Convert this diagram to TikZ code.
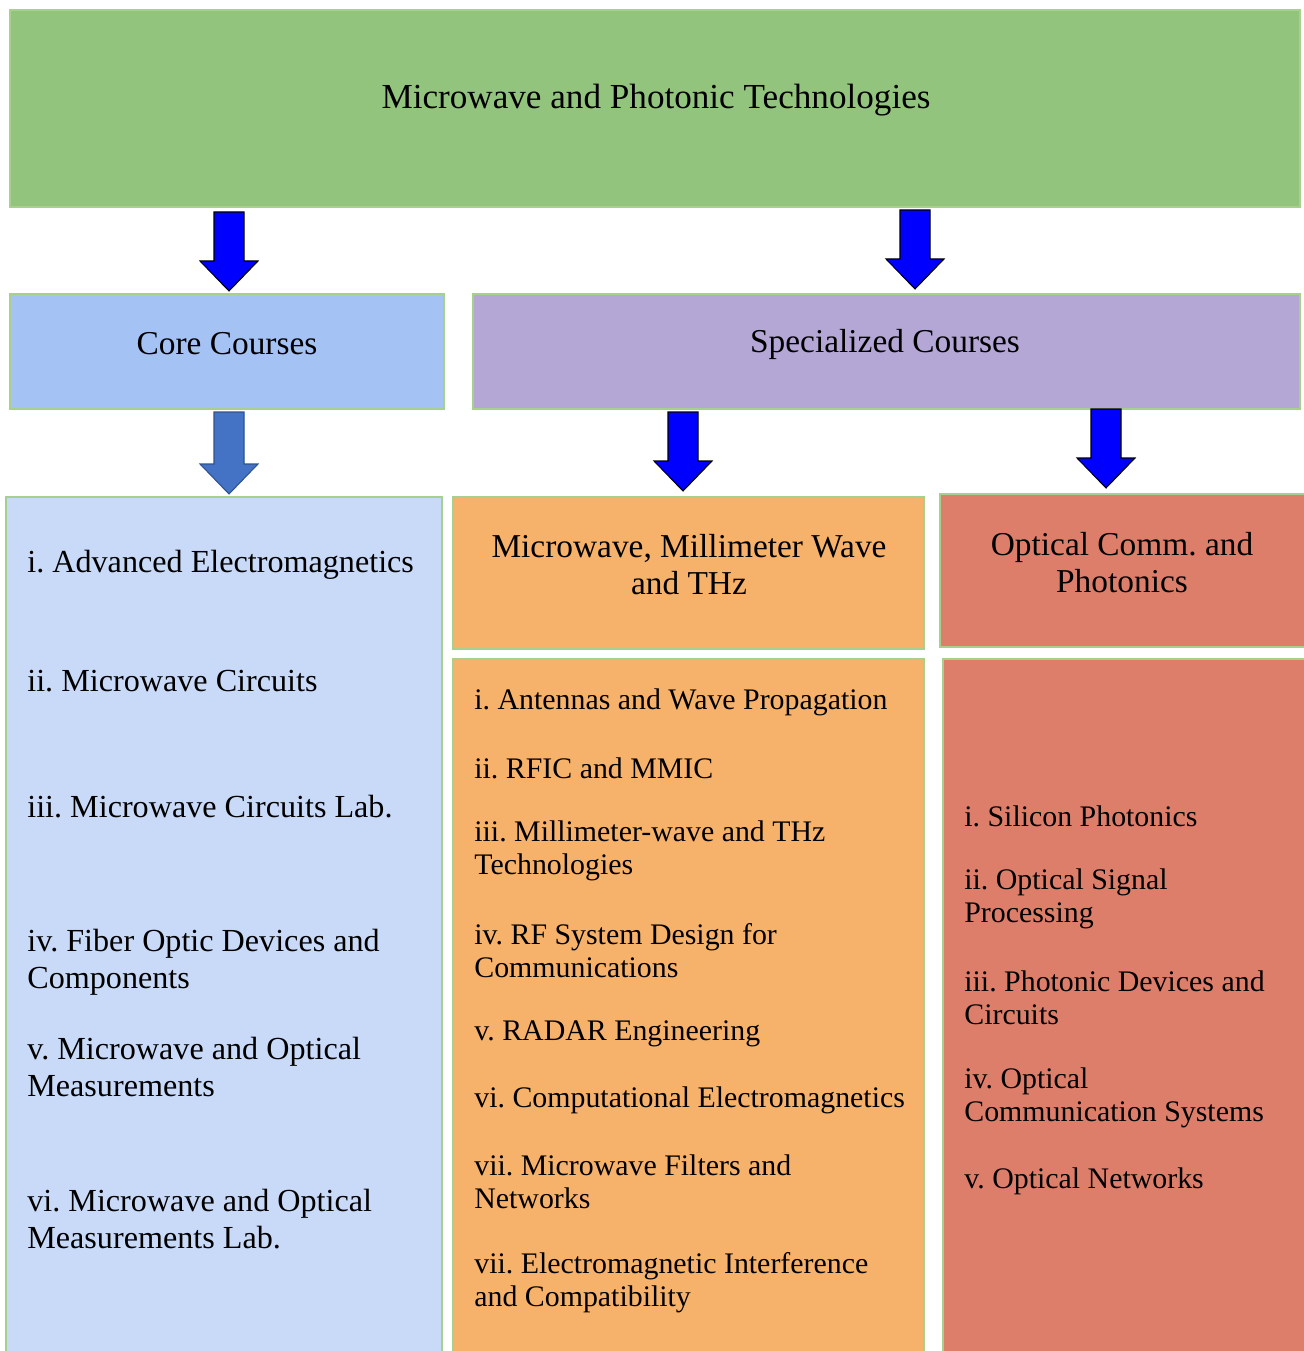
\documentclass[tikz,border=0pt]{standalone}
\usepackage{fontspec}
\setmainfont{Liberation Serif}
\frenchspacing
\usetikzlibrary{fit}
\definecolor{cgreen}{HTML}{93C47D}
\definecolor{cblue}{HTML}{A4C2F4}
\definecolor{cpurple}{HTML}{B4A7D6}
\definecolor{clight}{HTML}{C9DAF8}
\definecolor{corange}{HTML}{F6B26B}
\definecolor{cred}{HTML}{DD7E6B}
\definecolor{cedge}{HTML}{A8D08D}
\definecolor{arrblue}{HTML}{0000FF}
\definecolor{arrsteel}{HTML}{4472C4}
\definecolor{arrsteeledge}{HTML}{2F528F}
\newcommand\blockarrowat[4]{% x, top y, tip y, style
  \filldraw[#4] ({#1-15},#2) -- ({#1+15},#2) -- ({#1+15},{#3-30}) -- ({#1+29},{#3-30})
    -- (#1,#3) -- ({#1-29},{#3-30}) -- ({#1-15},{#3-30}) -- cycle;}
\begin{document}
\begin{tikzpicture}[x=0.02cm,y=-0.02cm,
  box/.style={draw=cedge,line width=0.7pt,inner sep=0pt,fit={#1}},
  bigtxt/.style={font=\fontsize{19}{21}\selectfont,align=center,inner sep=0pt},
  coretxt/.style={font=\fontsize{18.3}{21.3}\selectfont,align=left,anchor=west,inner sep=0pt},
  listtxt/.style={font=\fontsize{17}{18.8}\selectfont,align=left,anchor=west,inner sep=0pt},
  arrA/.style={fill=arrblue,draw=black,line width=0.6pt,line join=miter},
  arrB/.style={fill=arrsteel,draw=arrsteeledge,line width=0.6pt,line join=miter}]
\useasboundingbox (0,0) rectangle (1303,1351);
\fill[white] (0,0) rectangle (1303,1351);
% boxes
\node[box={(10,10) (1300,207)},fill=cgreen] (top) {};
\node[box={(10,294) (444,409)},fill=cblue] (core) {};
\node[box={(473,294) (1300,409)},fill=cpurple] (spec) {};
\node[box={(6,497) (442,1365)},fill=clight] (corelist) {};
\node[box={(453,497) (924,649)},fill=corange] (mmw) {};
\node[box={(940,494) (1308,647)},fill=cred] (opt) {};
\node[box={(453,659) (924,1365)},fill=corange] (mmwlist) {};
\node[box={(943,659) (1308,1365)},fill=cred] (optlist) {};
% arrows
\blockarrowat{229}{212}{291}{arrA}
\blockarrowat{915}{210}{289}{arrA}
\blockarrowat{229}{412}{494}{arrB}
\blockarrowat{683}{412}{491}{arrA}
\blockarrowat{1106}{409}{488}{arrA}
% headings
\node[bigtxt,font=\fontsize{20}{22}\selectfont] (ttop) at (656,100) {Microwave and Photonic Technologies};
\node[bigtxt] (tcore) at (227,344) {Core Courses};
\node[bigtxt] (tspec) at (885,344) {Specialized Courses};
\node[bigtxt] (tmmw) at (689,565) {Microwave, Millimeter Wave\\and THz};
\node[bigtxt] (topt) at (1122,563) {Optical Comm. and\\Photonics};
% core list
\node[coretxt] (c1) at (27,565) {i. Advanced Electromagnetics};
\node[coretxt] (c2) at (27,681) {ii. Microwave Circuits};
\node[coretxt] (c3) at (27,807) {iii. Microwave Circuits Lab.};
\node[coretxt] (c4) at (27,962) {iv. Fiber Optic Devices and\\Components};
\node[coretxt] (c5) at (27,1067) {v. Microwave and Optical\\Measurements};
\node[coretxt] (c6) at (27,1219) {vi. Microwave and Optical\\Measurements Lab.};
% mmw list
\node[listtxt] (m1) at (474,702) {i. Antennas and Wave Propagation};
\node[listtxt] (m2) at (474,768) {ii. RFIC and MMIC};
\node[listtxt] (m3) at (474,851) {iii. Millimeter-wave and THz\\Technologies};
\node[listtxt] (m4) at (474,951) {iv. RF System Design for\\Communications};
\node[listtxt] (m5) at (474,1034) {v. RADAR Engineering};
\node[listtxt] (m6) at (474,1100) {vi. Computational Electromagnetics};
\node[listtxt] (m7) at (474,1182) {vii. Microwave Filters and\\Networks};
\node[listtxt] (m8) at (474,1283) {vii. Electromagnetic Interference\\and Compatibility};
% optical list
\node[listtxt] (o1) at (964,816) {i. Silicon Photonics};
\node[listtxt] (o2) at (964,899) {ii. Optical Signal\\Processing};
\node[listtxt] (o3) at (964,998) {iii. Photonic Devices and\\Circuits};
\node[listtxt] (o4) at (964,1098) {iv. Optical\\Communication Systems};
\node[listtxt] (o5) at (964,1181) {v. Optical Networks};
\end{tikzpicture}
\end{document}
